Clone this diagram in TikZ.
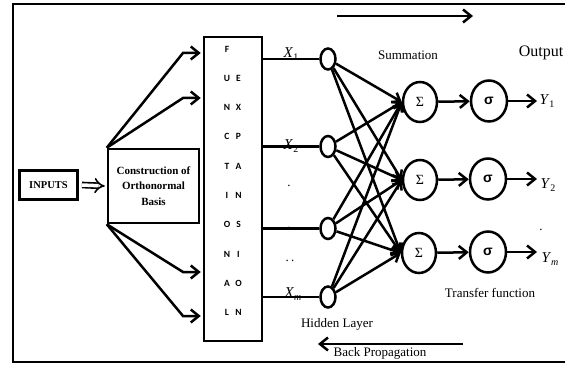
\documentclass[tikz,border=0pt]{standalone}
\usepackage{fontspec}
\setmainfont{Liberation Serif}
\newfontfamily\lettersfont{Carlito}
\newfontfamily\greeksans{Liberation Sans}
\usetikzlibrary{arrows.meta,shapes.geometric}

% lowered index for the italic labels X_1, Y_1, ...
\newcommand\subidx[1]{\raisebox{-0.5ex}{\fontsize{10}{10}\selectfont #1}}

\begin{document}
\begin{tikzpicture}[x=1pt,y=-1pt,line width=2.5pt,
  arr/.style={-{Straight Barb[length=8pt,width=13pt]}},
  arrs/.style={-{Straight Barb[length=7pt,width=11pt]}},
  lbl/.style={font=\fontsize{13}{15}\selectfont, inner sep=0},
  vlbl/.style={font=\fontsize{15}{17}\selectfont, inner sep=0},
  letter/.style={font=\lettersfont\bfseries\fontsize{9.5}{10}\selectfont, inner sep=0},
  hid/.style={draw, ellipse, minimum width=15, minimum height=21, inner sep=0},
  sumnode/.style={draw, ellipse, minimum width=34, minimum height=40, inner sep=0,
    font=\fontsize{14}{14}\selectfont},
  actnode/.style={draw, ellipse, minimum width=36, minimum height=41, inner sep=0,
    font=\greeksans\bfseries\fontsize{14}{14}\selectfont}]
\useasboundingbox (0,0) rectangle (565,366);

% outer frame (open on the right)
\draw[line width=2.8pt] (580,4) -- (13,4) -- (13,362) -- (580,362);

% input stage
\node[draw, line width=2.8pt, minimum width=58, minimum height=29,
  font=\bfseries\fontsize{10.5}{12}\selectfont] (inp) at (48.5,185) {INPUTS};
\node[draw, minimum width=91, minimum height=74, align=center,
  font=\bfseries\fontsize{11}{15.5}\selectfont] (cob) at (153.5,186)
  {Construction of\\Orthonormal\\Basis};
\draw[double, double distance=3.5pt, line width=1.6pt, -{Implies}]
  ([xshift=3pt]inp.east) -- ([xshift=-2pt]cob.west);

% functional expansion block
\node[draw, minimum width=58, minimum height=304] (fb) at (233,189) {};
\foreach \a [count=\i] in {F,U,N,C,T,I,O,N,A,L}
  \node[letter] (fl\i) at (227,{49+29.3*(\i-1)}) {\a};
\foreach \b [count=\i from 2] in {E,X,P,A,N,S,I,O,N}
  \node[letter] (fr\i) at (238.5,{49+29.3*(\i-1)}) {\b};

% fan-out from the basis block
\coordinate (k1) at (183,53);
\coordinate (k2) at (183,98);
\coordinate (k3) at (183,272);
\coordinate (k4) at (183,316);
\draw[arr, shorten >=2pt] (cob.north west) -- (k1) -- (fb.west |- k1);
\draw[arr, shorten >=2pt] (cob.north west) -- (k2) -- (fb.west |- k2);
\draw[arr, shorten >=2pt] (cob.south west) -- (k3) -- (fb.west |- k3);
\draw[arr, shorten >=2pt] (cob.south west) -- (k4) -- (fb.west |- k4);

% hidden layer
\node[hid] (h1) at (328,59) {};
\node[hid] (h2) at (328,146.5) {};
\node[hid] (h3) at (328,228.5) {};
\node[hid] (h4) at (328,297) {};
\foreach \i in {1,...,4} \draw (fb.east |- h\i) -- (h\i);
\node[vlbl] (x1) at (291,54) {\textit{X}\subidx{1}};
\node[vlbl] (x2) at (291,146) {\textit{X}\subidx{2}};
\node[vlbl] (xm) at (293,294) {\textit{X}\subidx{\textit{m}}};
\node[lbl] (d1) at (289,186) {.};
\node[lbl] (d2) at (289,228) {.};
\node[lbl] (d3) at (290,261) {.\,.};

% summation and transfer nodes
\node[sumnode] (s1) at (420,102) {Σ};
\node[sumnode] (s2) at (420,180) {Σ};
\node[sumnode] (s3) at (419,253) {Σ};
\node[actnode] (t1) at (489,101) {σ};
\node[actnode] (t2) at (488,179) {σ};
\node[actnode] (t3) at (488,252) {σ};
\foreach \i in {1,...,4}
  \foreach \j in {1,2,3}
    \draw[arrs] (h\i) -- (s\j.west);
\foreach \j in {1,2,3} \draw[arr] (s\j) -- (t\j);

% outputs
\coordinate (o1) at (537,101);
\coordinate (o2) at (537,179);
\coordinate (o3) at (537,252);
\foreach \j in {1,2,3} \draw[arr] (t\j) -- (o\j);
\node[vlbl] (y1) at (547,101) {\textit{Y}\subidx{1}};
\node[vlbl] (y2) at (548,185) {\textit{Y}\subidx{2}};
\node[vlbl] (ym) at (550,259) {\textit{Y}\subidx{\textit{m}}};
\node[lbl] (d4) at (541,230) {.};

% captions
\node[lbl] (sumcap) at (408,55) {Summation};
\node[font=\fontsize{16}{18}\selectfont, inner sep=0] (outcap) at (541,53) {Output};
\node[lbl] (trcap) at (490,293) {Transfer function};
\node[lbl] (hidcap) at (337,324) {Hidden Layer};
\node[lbl] (bpcap) at (380,353) {Back Propagation};

% forward and backward direction arrows
\coordinate (fwdS) at (337,16);
\coordinate (fwdE) at (473,16);
\draw[arr] (fwdS) -- (fwdE);
\coordinate (bpS) at (463,344);
\coordinate (bpE) at (318,344);
\draw[arr] (bpS) -- (bpE);
\end{tikzpicture}
\end{document}
